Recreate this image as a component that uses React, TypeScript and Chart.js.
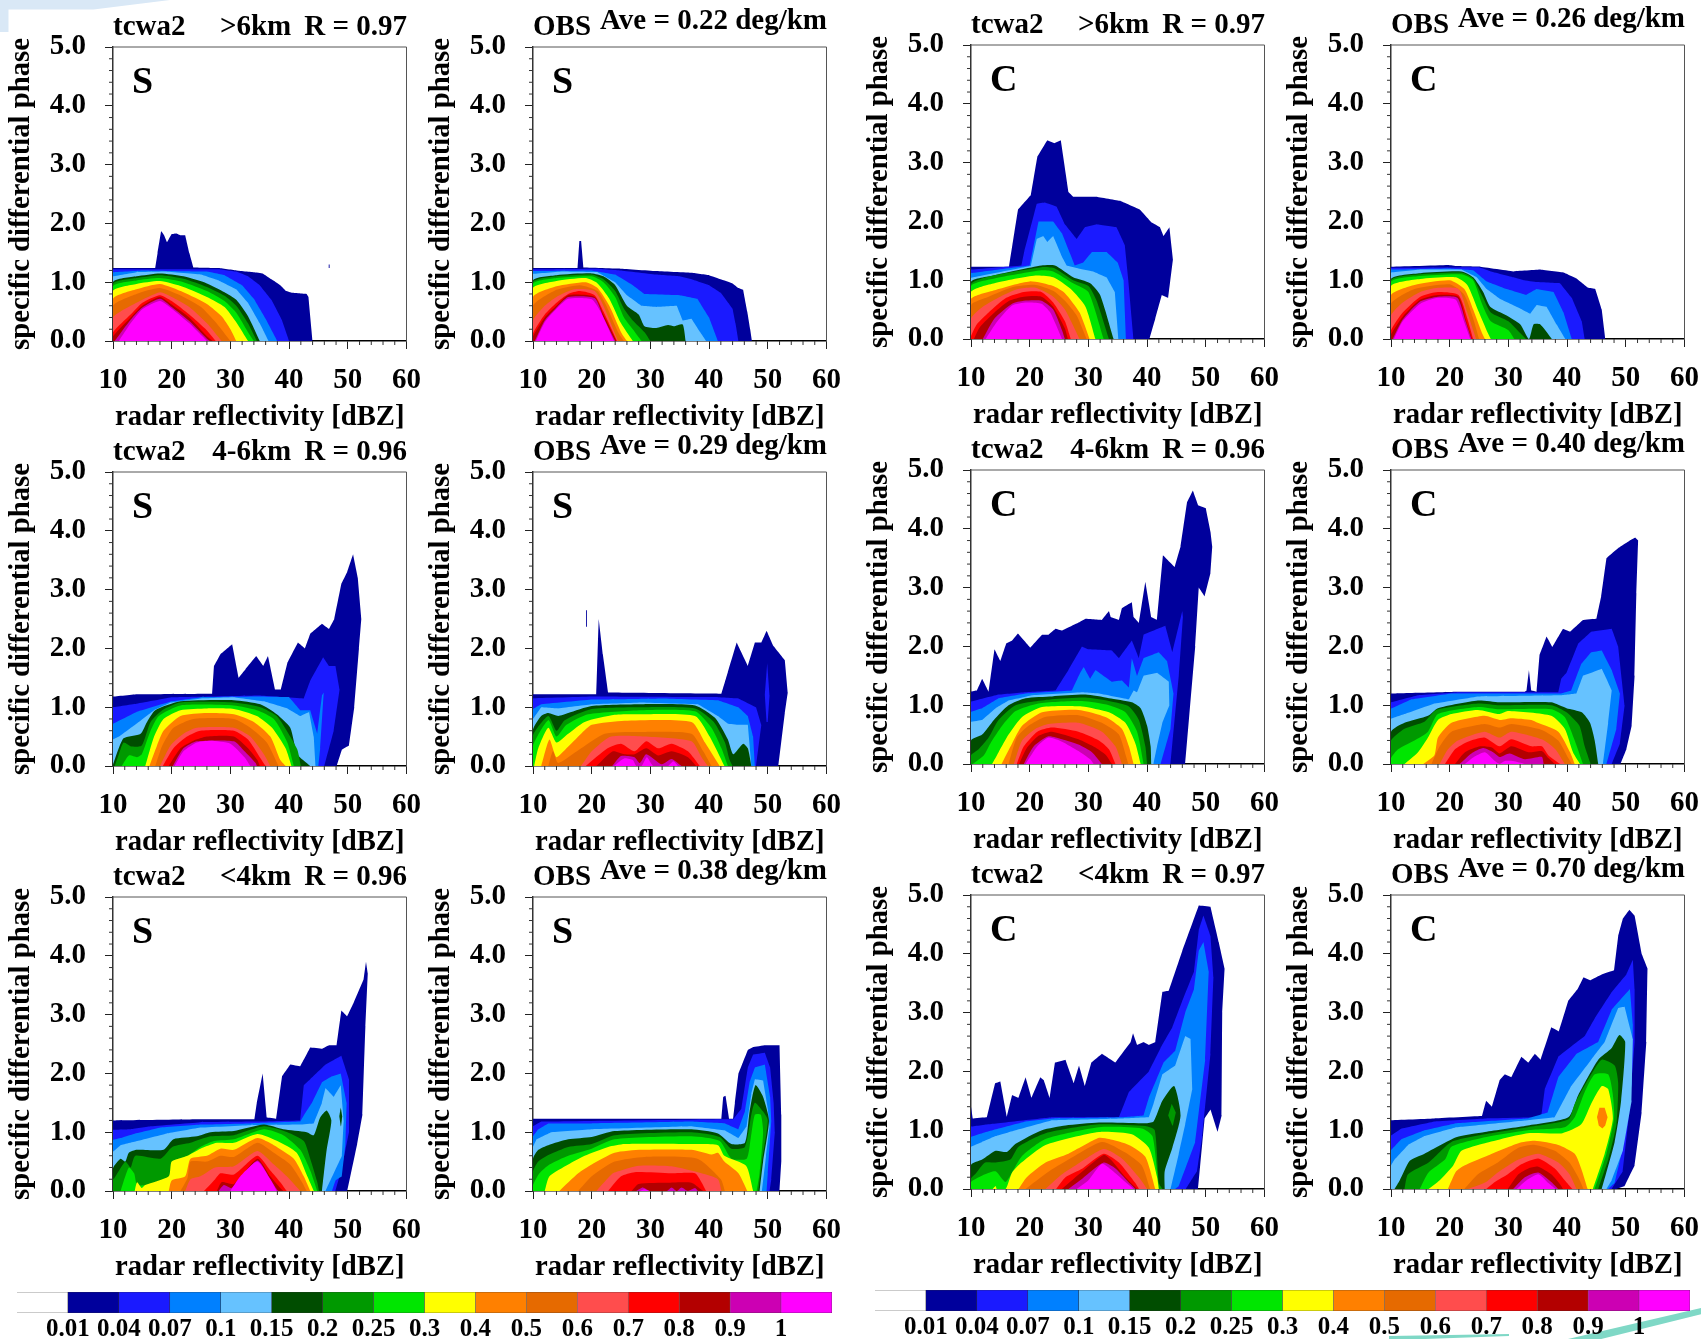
import React, { useEffect, useRef } from "react";
import { Chart, registerables } from "chart.js";
Chart.register(...registerables);

const LEVEL_COLORS = ["#00009c","#1a1aff","#0080ff","#66c2ff","#004d00","#009900","#00e600","#ffff00","#ff8000","#e66a00","#ff4d4d","#ff0000","#b30000","#cc00b3","#ff00ff"];
const LEGEND_COLORS = ["#ffffff", ...LEVEL_COLORS];
const LEGEND_LABELS = ["0.01","0.04","0.07","0.1","0.15","0.2","0.25","0.3","0.4","0.5","0.6","0.7","0.8","0.9","1"];
const X_TICKS = [10, 20, 30, 40, 50, 60];
const Y_TICKS = [0, 1, 2, 3, 4, 5];

// Each inner array is one contour outline: x (dBZ), y (deg/km) pairs, closed along y = 0.
const S_GT6_MODEL = [
[10,1.24,17.2,1.24,17.6,1.5,18.2,1.87,18.7,1.8,19.2,1.68,20,1.82,20.8,1.83,21.5,1.8,22.3,1.8,23,1.5,23.7,1.25,28,1.24,31,1.2,34,1.17,35.5,1.15,37,1.05,38.5,0.95,39.5,0.85,40.5,0.82,43,0.8,43.3,0.75,44,0],
[10,1.22,28,1.22,31,1.18,33,1.1,35,0.95,37,0.7,38.8,0.35,40,0],
[10,1.17,15,1.2,26,1.18,29,1.12,32,0.95,34,0.72,36,0.38,38,0],
[10,1.1,14,1.17,19,1.18,25,1.13,28,1.03,31,0.88,33,0.65,35,0.3,36.5,0],
[10,1.0,14,1.1,18,1.15,22,1.1,26,0.98,29,0.83,31,0.7,33,0.42,35,0],
[10,0.97,14,1.07,18,1.12,22,1.06,26,0.92,29,0.77,31,0.6,33,0.3,34.5,0],
[10,0.93,14,1.03,18,1.07,22,1.0,26,0.85,29,0.68,31,0.48,33,0.15,34,0],
[10,0.85,14,0.97,18,1.02,22,0.92,26,0.75,29,0.58,31,0.32,33,0],
[10,0.72,14,0.88,18,0.97,22,0.83,26,0.63,28.5,0.42,30,0.2,31,0],
[10,0.6,14,0.8,18,0.9,22,0.75,25,0.58,27.5,0.32,30,0],
[10,0.4,14,0.65,18,0.83,20,0.75,23,0.58,26,0.3,28.5,0],
[10,0.15,13,0.45,15,0.65,18,0.78,20,0.68,23,0.45,26,0.18,27.5,0],
[10,0.08,13,0.4,15,0.6,18,0.75,20,0.62,23,0.4,26,0.08,27,0],
[10.3,0,13,0.36,15,0.57,18,0.72,20,0.58,23,0.34,26,0.04,26.5,0],
[11,0,13,0.3,15,0.54,18,0.68,20,0.55,23,0.3,26,0],
];
const S_GT6_OBS = [
[10,1.24,17.6,1.24,17.9,1.7,18.2,1.7,18.6,1.25,25,1.23,31,1.19,37,1.16,40,1.12,42,1.05,44,0.98,45,0.9,45.8,0.87,46.5,0.5,47,0.2,47.3,0],
[10,1.22,21,1.23,25,1.2,31,1.13,35,1.1,37,1.05,40,0.95,42,0.82,44,0.55,44.5,0.3,45,0],
[10,1.19,20,1.2,24,1.13,27,0.95,29,0.8,35,0.78,38,0.72,40,0.4,41.5,0],
[10,1.14,15,1.18,21,1.17,24,1.0,26,0.78,28.5,0.6,31,0.58,34.5,0.6,35.5,0.35,37,0.38,38.5,0.15,39.5,0],
[10,1.03,14,1.12,20,1.15,22,1.1,24,0.95,26,0.6,28,0.45,29,0.25,31,0.22,33,0.27,34,0.25,35.5,0.28,36,0],
[10,1.0,14,1.1,20,1.13,22,1.05,24,0.85,25.5,0.55,27,0.35,29,0.15,30,0],
[10,0.97,14,1.07,20,1.1,22,1.0,24,0.75,25.5,0.4,27,0.2,28.5,0],
[10,0.9,14,1.02,19,1.07,21,0.98,23,0.72,25,0.3,27,0],
[10,0.75,14,0.93,19,1.0,21,0.9,23,0.6,25,0.15,26,0],
[10,0.6,14,0.87,18,0.95,21,0.85,22.5,0.6,24.5,0.15,25.5,0],
[10,0.35,12,0.6,14,0.75,17,0.88,20.5,0.85,22,0.6,24.5,0],
[10,0.13,12,0.45,14,0.65,16,0.8,18,0.85,20.5,0.78,22,0.5,24.3,0],
[10,0.08,12,0.4,14,0.6,16,0.78,20.5,0.75,22,0.45,24.2,0],
[10.3,0,12,0.35,14,0.57,16,0.75,20.5,0.73,22,0.4,24,0],
[10.5,0,12,0.32,14,0.55,16,0.72,20,0.71,21.5,0.5,23.8,0],
];
const C_GT6_MODEL = [
[10,1.23,16.5,1.23,18,2.2,20.2,2.45,21.3,3.1,23,3.38,24.2,3.33,25.3,3.38,26.6,2.5,27.4,2.42,31.4,2.42,35.4,2.35,38.8,2.2,40.8,1.98,42.2,1.9,42.8,1.75,43.8,1.9,44.4,1.35,43.6,0.7,42.5,0.75,41.4,0.35,40.4,0],
[10,1.18,18.6,1.25,19.1,1.5,21.2,2.3,22.6,2.32,24.6,2.25,26,1.95,28,1.7,29.4,1.9,31.4,1.95,34.8,1.9,36.2,1.6,36.8,1.0,37.7,0],
[10,1.12,20,1.25,21.5,2.0,24,2.0,25.5,1.8,27.7,1.25,29.1,1.3,30.6,1.48,33.1,1.48,35,1.3,36,1.0,36.4,0],
[10,1.04,20.2,1.24,21.2,1.7,22.3,1.75,23,1.65,24,1.75,25.5,1.4,26.3,1.25,28.3,1.2,30.8,1.15,33.1,1.05,34.5,0.8,35.1,0],
[10,0.97,13.8,1.08,22,1.25,24.3,1.25,27.4,1.05,30.3,0.95,32,0.75,34.3,0],
[10,0.94,22,1.22,24.3,1.2,27.4,1.0,30,0.9,31.4,0.65,33.5,0],
[10,0.9,14,1.03,22,1.17,24,1.15,27.4,0.95,30,0.8,32.6,0],
[10,0.8,14,0.95,21,1.08,24,1.05,27,0.85,29.5,0.55,31.2,0],
[10,0.68,14,0.83,20,0.98,24,0.9,26,0.78,28.5,0.45,30.2,0],
[10,0.58,13,0.72,17,0.88,21,0.92,24,0.82,26,0.65,28,0.4,29.7,0],
[10,0.35,12,0.55,15,0.72,18,0.85,21,0.87,24,0.72,26,0.5,28.5,0],
[10,0.05,11,0.25,13,0.45,16,0.7,19,0.8,22,0.8,24,0.62,26,0.3,27,0],
[10.5,0,11.5,0.2,14,0.45,16.5,0.65,19,0.72,22,0.72,24,0.55,26,0.18,26.5,0],
[12,0,14,0.35,17,0.6,19,0.65,22,0.65,24,0.5,25.5,0.15,26,0],
[12.5,0,14.5,0.3,17,0.57,19.5,0.62,22,0.6,23.5,0.45,25.5,0],
];
const C_GT6_OBS = [
[10,1.23,19.8,1.26,21.2,1.24,25.2,1.23,30.9,1.15,35.4,1.18,39.4,1.13,41.6,1.03,43.6,0.87,44.8,0.85,45.9,0.5,46.5,0],
[10,1.21,25,1.22,27,1.15,30.9,1.05,32.6,1.0,34.8,0.97,38.8,0.95,40.8,0.7,42.5,0.3,43,0],
[10,1.18,20,1.2,24,1.17,26.3,0.98,29.7,0.85,33,0.75,34.8,0.85,37.7,0.8,39.4,0.45,40.8,0],
[10,1.13,15,1.18,22,1.18,24.6,1.05,26.3,0.85,28.6,0.68,32,0.52,33.7,0.43,34.8,0.58,36.5,0.55,38.2,0.25,39.7,0],
[10,1.02,15,1.12,22,1.15,24,1.05,25.7,0.8,26.9,0.55,29.7,0.4,32,0.25,33.5,0,34.3,0.25,35.4,0.25,37.4,0],
[10,1.0,15,1.1,22,1.13,24,1.03,25.7,0.7,27,0.45,30,0.3,32,0.1,33,0],
[10,0.97,15,1.07,22,1.1,24,1.0,25.5,0.6,27,0.3,30,0.15,31,0],
[10,0.9,15,1.02,21,1.05,23,0.92,25,0.45,26.5,0.1,27,0],
[10,0.75,14,0.92,20,1.0,22.5,0.85,24,0.5,25.5,0.1,26,0],
[10,0.6,14,0.85,20,0.93,22.5,0.75,24,0.35,25,0],
[10,0.4,12,0.62,15,0.8,18,0.87,21.5,0.85,23,0.45,24.5,0],
[10,0.15,12,0.45,15,0.72,18,0.8,21.5,0.75,23,0.35,24,0],
[10,0.08,12,0.38,15,0.67,18,0.75,21.5,0.72,22.8,0.3,23.8,0],
[10.3,0,12,0.33,15,0.64,18,0.72,21.3,0.7,22.7,0.3,23.7,0],
[10.5,0,12,0.3,15,0.6,18,0.7,21,0.67,22.5,0.28,23.5,0],
];
const S_MID_MODEL = [
[10,1.18,14.1,1.22,26.9,1.23,27.2,1.7,28.3,1.9,30.3,2.07,31.4,1.5,32.6,1.65,34.4,1.87,35.6,1.7,36.4,1.87,37.6,1.3,38.6,1.3,39.7,1.75,41.5,2.1,42.7,2.0,43.6,2.25,45.6,2.42,46.8,2.33,47.7,2.5,48.9,3.1,49.9,3.3,50.9,3.6,51.7,3.2,52.3,2.5,51.9,2.0,51.1,1.0,50.2,0.35,49,0.28,48.1,0],
[10,1.0,14,1.06,20,1.17,35,1.2,42.5,1.15,43.6,1.45,45.8,1.85,46.8,1.7,47.9,1.7,48.6,1.3,47.6,0.6,46,0],
[10,0.72,14,0.92,20,1.1,25,1.17,35,1.18,40,1.17,41.9,0.95,43.6,0.95,44.8,0.55,45.6,1.2,45.9,1.25,45.3,0.3,45,0],
[10,0.45,11,0.5,14,0.72,17,0.95,19.8,1.08,24.9,1.15,30.6,1.17,35.7,1.1,39.7,0.98,41.9,0.85,43.4,0.92,44.2,0.5,44.5,0],
[10,0.02,11.8,0.47,14.7,0.55,15.8,0.75,17.2,0.95,21.5,1.1,30.6,1.12,35.1,1.05,37.9,0.88,40.2,0.65,41.4,0.2,43.6,0],
[10.3,0,11,0.2,11.8,0.4,13.2,0.33,14.9,0.35,16.4,0.75,18.4,0.95,21.5,1.08,30.6,1.08,35.1,1.0,37.9,0.85,39.9,0.55,41.4,0.28,42,0],
[11.5,0,12.7,0.18,14.1,0.15,14.9,0.2,16.4,0.6,17.8,0.85,21.5,1.03,30.6,1.03,34.5,0.95,37.4,0.8,39.7,0.4,40.8,0],
[15.5,0,17,0.5,18.6,0.8,21.5,0.95,26,0.98,30.6,0.97,34.5,0.85,37.1,0.65,39.4,0.3,40.4,0],
[16.2,0,17.5,0.35,18.6,0.6,21.5,0.85,26,0.9,30.6,0.88,34,0.75,36.8,0.5,38.5,0.1,39.4,0],
[17.2,0,18.4,0.35,20.3,0.65,23.7,0.8,30.6,0.8,33.4,0.65,36.2,0.4,38.2,0],
[18,0,19.8,0.35,22,0.55,24.3,0.65,30.6,0.65,33.4,0.5,35.7,0.2,36.8,0],
[18.5,0,20.3,0.3,22.6,0.5,24.9,0.6,30.6,0.6,33,0.45,35,0.15,36,0],
[19.5,0,21.5,0.3,23.7,0.43,26,0.5,30.6,0.5,33,0.3,34.6,0.1,35,0],
[20.2,0,22,0.3,24.3,0.42,30.6,0.42,32.4,0.25,34.3,0.05,34.5,0],
[20.5,0,22,0.25,24.3,0.4,26.6,0.43,30,0.38,32.4,0.15,33.4,0],
];
const S_MID_OBS = [
[10,1.22,20.8,1.22,21.2,2.5,21.9,1.9,22.8,1.25,42.1,1.23,43.2,1.6,44.7,2.1,46.6,1.7,47.8,2.1,48.9,2.1,49.8,2.3,50.9,2.05,52.9,1.8,53.4,1.25,52.9,0.9,51.8,0],
[10,1.15,20,1.18,41.5,1.17,45,1.15,48,1.0,48.9,0.7,48,0],
[10,0.97,11.4,1.05,20,1.13,32.4,1.15,41.5,1.12,45,1.0,46.6,0.85,47.5,0.5,47.8,0],
[10,0.8,11.4,1.0,14.3,0.98,20,1.05,28.5,1.08,38.1,1.05,41.5,0.85,43.2,0.72,45,0.7,46.6,0.7,47.2,0],
[10,0.62,11.4,0.85,12.6,0.9,14.3,0.85,16,0.9,20,1.02,28.5,1.05,37.6,1.03,41,0.82,43.2,0.45,44.1,0.2,45.8,0.38,46.6,0.3,47.2,0],
[10,0.52,12.6,0.85,14,0.6,15.4,0.78,20,0.97,28.5,1.0,37.6,0.98,40.8,0.75,42.7,0.4,43.5,0.1,44,0],
[10,0.35,12.6,0.78,14,0.5,15.7,0.7,19.4,0.88,28.5,0.95,37.6,0.93,40.4,0.65,42.1,0.3,43.2,0],
[10.2,0,10.9,0.3,12.6,0.65,14,0.4,16,0.55,18.8,0.75,23.9,0.87,28.5,0.88,37.6,0.85,40.1,0.5,42.6,0],
[11.4,0,12.8,0.45,14,0.15,15.7,0.3,18.2,0.55,20,0.7,25.6,0.77,37,0.75,39.3,0.4,41.8,0],
[12.6,0,13.4,0.25,14.3,0.05,18.2,0.3,22.2,0.55,28.5,0.58,37,0.55,39,0.25,40.4,0],
[18.2,0,20,0.25,23.3,0.5,29,0.5,37,0.42,38.7,0.15,39.8,0],
[19,0,22.7,0.3,25,0.38,27.3,0.25,29.3,0.42,31.3,0.3,33.6,0.38,36.4,0.25,38.4,0],
[20.8,0,23.6,0.25,25.6,0.2,27.3,0.2,29.3,0.3,31.3,0.18,33.6,0.25,36.4,0.15,37.8,0],
[23.5,0,25,0.17,27.3,0.15,28.2,0.05,29.3,0.2,31.9,0.03,33.6,0.12,35.3,0],
[23.8,0,25.6,0.13,27,0.1,27.6,0,28.5,0,29.4,0.15,30.5,0,33,0,33.9,0.08,34.7,0],
];
const C_MID_MODEL = [
[10,1.23,11,1.25,11.9,1.45,13,1.23,14,1.95,15,1.75,16,2.05,17,2.1,18,2.22,20.1,1.98,22.1,2.2,23.2,2.2,24.4,2.3,25.5,2.27,28.6,2.42,29.5,2.47,32.3,2.45,33.5,2.6,33.8,2.5,35.2,2.45,35.7,2.65,37.4,2.75,37.7,2.5,38.6,2.4,39.7,3.1,40.7,2.5,41.7,2.45,42.7,3.55,44.7,3.35,45.7,3.7,46.8,4.45,47.8,4.65,48.7,4.4,50,4.35,50.8,3.95,51.1,3.7,50.8,3.25,49.8,2.85,48.8,3.0,48.2,2.0,46.5,0],
[10,1.06,14.7,1.18,19.3,1.22,24.4,1.25,26.6,1.6,28.9,2.0,30,1.95,34,1.93,35.2,1.8,37.4,2.1,38.6,1.8,39.4,2.2,43.1,2.35,44.3,1.9,46,2.6,46.1,2.5,45.4,1.5,44,0],
[10,0.89,11.9,0.95,14.7,1.12,19.3,1.2,27.2,1.25,28.6,1.55,29.2,1.65,30.3,1.45,31.2,1.6,34,1.4,35.7,1.42,36.9,1.3,37.4,1.8,38.3,1.5,39.4,1.8,42,1.9,43.4,1.75,44.5,1.2,44,0.6,42.3,0],
[10,0.72,11.9,0.75,14.2,0.95,16.4,1.08,20.4,1.17,28.9,1.22,31.8,1.2,36.9,1.1,37.7,1.25,38.3,1.22,39.4,1.5,41.7,1.55,43.7,1.4,43.8,1.0,42.6,0.7,41.7,0.3,41.1,0],
[10,0.4,11.9,0.5,13.9,0.75,16.4,1.0,19.3,1.12,23.8,1.15,29.5,1.18,33.5,1.12,37.4,1.05,38.9,0.95,40,0.65,40.6,0.3,40.7,0],
[10,0.15,11.3,0.25,13,0.45,14.7,0.75,17.6,1.0,23.8,1.1,29.5,1.13,33.5,1.07,36.9,0.98,38.6,0.75,39.7,0.3,40,0],
[10.3,0,12.2,0.15,13.3,0.35,15.3,0.65,17.6,0.9,21.5,1.03,28.9,1.07,33.5,1.0,36.3,0.88,38.3,0.55,39.4,0],
[13.6,0,14.7,0.2,16.4,0.5,18.7,0.8,22.1,0.97,28.9,0.98,33.5,0.88,36.3,0.7,38,0.35,38.9,0],
[15.2,0,17,0.35,18.7,0.65,22.1,0.88,28.3,0.92,32.9,0.8,35.7,0.6,36.9,0.3,37.7,0],
[16.4,0,17.8,0.45,19.8,0.65,22.6,0.8,28.3,0.83,32.3,0.7,35.2,0.5,36.5,0.1,36.8,0],
[17.3,0,18.7,0.4,21,0.6,23.2,0.68,28.3,0.7,32.3,0.55,34.6,0.3,35.7,0],
[17.8,0,19,0.3,21.3,0.55,23.8,0.62,28.3,0.55,31.8,0.4,33.5,0.25,34.6,0],
[18.2,0,19.5,0.27,21.5,0.48,23.8,0.55,28.3,0.42,31.2,0.28,33,0.15,34,0],
[19,0,20.7,0.3,23.2,0.47,25.5,0.42,28.3,0.33,30.6,0.2,32.3,0],
[19.3,0,21.3,0.3,23.2,0.45,25.5,0.38,28.3,0.22,30.3,0.08,30.9,0],
];
const C_MID_OBS = [
[10,1.2,21.4,1.23,32.8,1.23,33.1,1.25,33.5,1.6,33.9,1.25,34.8,1.23,35.3,1.85,36.5,2.17,37.5,1.99,39.3,2.3,40.5,2.25,42.7,2.45,45,2.47,45.8,2.85,46.7,3.5,47,3.53,48.7,3.67,50.7,3.8,51.6,3.85,52.1,3.8,51.8,2.9,51.5,1.5,51,0.65,50.1,0.25,49.1,0],
[10,1.05,14.6,1.17,21.4,1.22,38.5,1.22,39,1.45,39.9,1.55,41.9,2.05,44.1,2.25,47.6,2.3,48.7,2.0,49.8,1.0,49,0.35,47.6,0],
[10,0.94,13.5,1.1,20.3,1.2,39,1.2,40.7,1.25,42.4,1.7,44.1,1.9,45.9,1.93,47.6,1.6,49,1.2,48.4,0.6,46.7,0],
[10,0.77,12.3,0.85,17.4,1.03,24.8,1.15,39,1.17,41.6,1.2,42.7,1.5,44.1,1.55,45.9,1.62,46.7,1.45,47.6,1.25,47,0.7,46.1,0],
[10,0.55,12.3,0.7,16.3,0.82,18,0.95,24.8,1.08,28.5,1.05,37.3,1.05,39.9,0.95,42.5,0.88,43.9,0.7,44.7,0.4,45.3,0],
[10,0.4,12.3,0.6,15.7,0.72,17.7,0.92,24.8,1.03,28.5,1.0,37.3,1.0,39.9,0.88,42.1,0.65,43,0.3,44,0],
[10,0.1,11.2,0.25,14,0.4,16.3,0.55,18,0.85,24.8,0.97,28.5,0.93,37.3,0.93,39.6,0.8,41.3,0.4,42.7,0],
[12.3,0,14.6,0.2,16.3,0.45,18,0.75,20.3,0.85,24.8,0.92,28.5,0.85,29.9,0.9,37.3,0.82,39.6,0.6,41,0.2,42.2,0],
[15.5,0,17.4,0.15,18,0.45,20.3,0.7,25.9,0.82,28.5,0.75,30.5,0.78,33.9,0.75,35,0.7,38.5,0.55,40.5,0.2,41.3,0],
[16.9,0,18.3,0.3,20.3,0.55,25.9,0.68,28.5,0.62,30.5,0.68,35.7,0.58,38.5,0.4,40.2,0.1,40.8,0],
[18.3,0,19.7,0.25,21.4,0.4,25.9,0.55,28.5,0.45,30.5,0.55,35.7,0.42,38,0.25,39.6,0],
[19.2,0,20.9,0.25,23.1,0.38,25.9,0.45,28.5,0.3,30.5,0.42,33.9,0.3,35.7,0.3,36.8,0.15,38.8,0],
[20.9,0,22.6,0.2,25.2,0.3,27.2,0.28,28.5,0.18,30.5,0.3,33.4,0.2,35.7,0.22,36.8,0.1,37.9,0],
[21.7,0,23.7,0.18,25.7,0.27,27.4,0.2,28.5,0.12,30.2,0.18,32.8,0.08,35.7,0.12,36,0],
[22.6,0,24.3,0.13,26,0.2,27.7,0.05,28.5,0,29.4,0.05,30.8,0.05,32.8,0],
];
const S_LOW_MODEL = [
[10,1.2,24.9,1.22,34.1,1.22,34.5,1.5,35.5,2.0,36.2,1.25,37.8,1.23,38.8,1.95,40.2,2.15,41.9,2.12,43.6,2.44,45.6,2.42,46.8,2.48,48.1,2.48,48.9,3.07,49.9,2.97,51,3.2,52.7,3.6,53.1,3.9,53.4,3.7,53,2.8,52.5,1.3,51.6,0.8,49.9,0],
[10,1.04,13,1.05,16.4,1.1,24.9,1.17,34,1.18,41.9,1.2,42.5,1.8,43.6,1.9,46.2,2.15,48.9,2.3,50.2,1.9,50.2,1.0,49,0.4,47.9,0],
[10,0.87,11.3,0.9,13.5,0.97,18.1,1.08,24.9,1.13,33.4,1.15,41.9,1.18,42.6,1.3,43.9,1.5,45.6,1.85,47.3,1.95,48.8,2.0,49.8,1.5,49.6,0.8,49,0.25,47.9,0.18,47.3,0],
[10,0.67,11.3,0.78,14.1,0.85,19.2,0.98,24.9,1.08,33.4,1.12,41.9,1.13,44.2,1.15,45.6,1.5,46.2,1.75,47.6,1.6,48.8,1.8,49.3,1.2,49,0.6,47.6,0.3,46.2,0],
[10,0.39,11.3,0.55,12.1,0.5,12.7,0.65,14.1,0.7,18.6,0.7,20.3,0.88,24.3,0.93,26.6,1.0,30.6,1.02,35.7,1.13,39,1.05,43,1.0,44.2,0.95,45.3,1.25,46.4,1.37,47.2,1.2,46.4,0.7,45.6,0],
[10,0.28,10.1,0.2,12.1,0.5,13,0.4,13.8,0.6,18.1,0.55,20.1,0.75,23.2,0.82,26.6,0.93,30.6,0.95,35.7,1.1,39.7,1.0,42.5,0.85,43.6,0.55,44.8,0.15,45.1,0],
[11.3,0,12.7,0.4,13.6,0.3,14.1,0.1,15.5,0.1,19.5,0.2,20.1,0.5,22.7,0.6,24.9,0.75,27.2,0.85,30.6,0.88,35.7,1.05,39,0.95,41.9,0.7,43.6,0.35,44.8,0],
[13.7,0,14.1,0.15,14.9,0.05,15.5,0.1,19.5,0.25,20,0.5,22.7,0.6,24.9,0.72,27.7,0.82,30.6,0.82,34.6,0.97,38,0.85,41.3,0.65,43.1,0.25,44.2,0],
[19.5,0,20,0.18,22.3,0.25,23.2,0.55,26,0.6,28.3,0.72,30.6,0.7,34.6,0.9,37.4,0.78,40.8,0.55,42.5,0.25,43.6,0],
[21.5,0,22.7,0.22,23.2,0.5,26,0.5,28.3,0.6,30.6,0.58,34.6,0.82,37.4,0.65,40.2,0.45,42.2,0.15,43,0],
[22.3,0,23.2,0.2,24.9,0.25,27.4,0.4,30.6,0.42,34.6,0.68,37.4,0.45,39.6,0.25,41.9,0],
[25.5,0,27.4,0.2,28.3,0.3,30.6,0.28,34.6,0.6,36.8,0.35,38.5,0.15,39.6,0],
[27.7,0,28.5,0.15,30.6,0.12,34.6,0.55,36.8,0.25,38.5,0.05,39,0],
[28,0,28.9,0.1,30.2,0.05,34.6,0.52,36.8,0.2,37.9,0.03,38.2,0],
[30,0,31.7,0.25,34.6,0.5,36.8,0.2,37.9,0],
];
const S_LOW_OBS = [
[10,1.23,42.1,1.23,42.4,1.6,42.8,1.62,43.4,1.23,44.1,1.23,44.4,1.5,45,2.0,45.8,2.2,46.6,2.4,47.5,2.45,49.5,2.48,52,2.48,52.3,1.3,52.3,0.5,52,0],
[10,1.1,11.4,1.18,42.7,1.22,44.1,1.22,45.5,1.4,46.6,2.1,47.5,2.32,49.5,2.35,50.4,2.1,51,1.5,51.2,1,50.6,0.2,50.3,0],
[10,0.93,10.9,1.05,12.6,1.15,20,1.15,37,1.18,42.7,1.15,45,1.05,46.1,1.35,46.9,1.85,47.8,2.1,49.5,2.15,50.4,1.6,50.6,1.2,50,0.3,49.8,0],
[10,0.75,10.6,0.88,13.1,1.0,20,1.05,37,1.1,42.7,1.03,45,0.9,46.4,1.1,47.2,1.65,47.8,1.9,49.2,1.88,50,1.4,50.3,1.1,49.7,0.6,49,0],
[10,0.55,10.9,0.7,12.6,0.78,16,0.88,20,0.92,23.9,1.02,37,1.05,41.5,0.98,43.8,0.8,46.1,0.82,46.9,1.35,47.9,1.8,49.2,1.6,50.2,1.2,49.2,0.5,48.6,0],
[10,0.33,10.9,0.5,12.8,0.62,16,0.75,20,0.8,23.9,0.95,37,1.0,41.8,0.92,43.8,0.72,46.1,0.75,47.2,1.3,47.8,1.5,49.2,1.35,50,1.2,49,0.5,48.4,0],
[10,0.1,11.1,0.3,12.8,0.45,16,0.6,20,0.72,23.9,0.88,37,0.93,41.8,0.85,43.8,0.55,46.4,0.55,47.1,0.9,47.8,1.3,48.8,1.3,49.2,1.0,48.6,0.3,48.1,0],
[12,0,12.8,0.25,16,0.45,18.8,0.6,22.8,0.75,25.6,0.8,37,0.8,41.5,0.78,42.6,0.6,46.3,0.43,47.5,0],
[14.5,0,17.7,0.3,20,0.45,23.9,0.65,28.5,0.7,37,0.7,40.4,0.62,41.5,0.65,42.6,0.5,45,0.3,46.5,0],
[17.7,0,20,0.25,23.9,0.5,29,0.58,38,0.55,42,0.2,42.7,0],
[20.8,0,23.6,0.3,25,0.35,28,0.43,33.6,0.42,38.7,0.3,41.5,0.2,42.1,0],
[22.8,0,25,0.25,27.3,0.32,33.6,0.3,37.6,0.3,38.7,0.15,39.5,0],
[26.8,0,28,0.12,33.2,0.14,37,0.14,38.7,0.02,39,0],
[27.6,0,28.7,0.06,29.9,0,32.8,0,33.6,0.06,34.5,0,35.3,0.06,36.4,0,37.6,0.05,38.1,0],
[28.2,0,29,0.03,29.8,0],
];
const C_LOW_MODEL = [
[10,1.4,10.3,1.2,12.7,1.22,14.1,1.8,15,1.83,16.1,1.23,17,1.6,18.1,1.55,19.3,1.9,20.3,1.55,21.8,1.9,22.4,1.85,23.4,1.55,24.3,2.15,26.1,2.2,27.5,1.8,28.4,2.1,29.4,1.75,30.5,2.15,32.3,2.3,34.6,2.15,37.2,2.5,37.6,2.65,38.3,2.45,39.4,2.5,40.3,2.45,41.4,2.5,42.6,3.35,43.7,3.37,46,4.05,48.8,4.82,50.8,4.8,52.2,4.2,53.2,3.75,52.8,3.0,52.7,1.25,52,0.97,50.8,1.35,49.8,1.2,48.7,0],
[10,1.06,13,1.1,23.8,1.22,35.2,1.22,36.9,1.65,40.3,2.0,42.3,2.4,44.3,2.75,46,3.2,48,3.7,48.8,4.4,49.6,4.65,50.8,4.3,51.3,3.6,50.8,2.3,49.4,0.9,48.5,0.3,46.6,0],
[10,0.89,11.9,0.95,14.7,1.03,19.3,1.15,23.8,1.2,35.9,1.22,39.4,1.25,40.3,1.55,42.8,2.15,44.8,2.35,46.5,3.0,48,3.4,48.8,4.05,49.6,4.2,50.5,3.7,49.9,2.2,48.2,0.8,45.4,0.05,44.8,0],
[10,0.72,11.9,0.8,14.2,0.9,17.6,1.0,23.8,1.17,35.9,1.2,40.3,1.22,41.1,1.45,42.6,1.95,44.8,2.1,46.5,2.6,47.4,2.55,47.7,1.7,46.5,1.1,45.4,0.6,44,0],
[10,0.41,11.9,0.5,14.2,0.65,16.1,0.63,17.6,0.77,22.1,1.0,26.1,1.08,31.8,1.13,39.7,1.12,41.1,1.15,42.6,1.5,44.6,1.75,45.7,1.25,44.3,0.7,43,0.3,43,0],
[10,0.18,10.7,0.25,12.4,0.45,14.2,0.45,16.7,0.5,18.1,0.72,22.7,0.95,31.8,1.1,39.7,1.07,41.3,1.0,42,0.1,42.6,0],
[10,0.12,12.4,0.25,14.2,0.3,15.9,0.12,18.6,0.55,22.7,0.85,31.8,1.05,39.1,1.03,40.9,0.9,41.7,0.3,42,0],
[13.7,0,14.2,0.05,14.4,0,15.9,0,17,0.28,18.6,0.45,22.7,0.75,31.8,0.97,37.4,0.93,40.3,0.7,41.7,0.2,42,0],
[18.1,0,19.5,0.2,22.7,0.45,26.6,0.6,31.8,0.87,33.5,0.85,36.9,0.75,39.7,0.55,41.4,0],
[19.3,0,23,0.28,26.6,0.5,32.3,0.8,36.3,0.62,39.1,0.4,40.5,0],
[22.7,0,25.5,0.25,27.8,0.4,32.6,0.68,35.7,0.52,38.6,0.2,40,0],
[24.5,0,26.1,0.2,29,0.35,32.6,0.6,35.2,0.45,38,0.1,38.6,0],
[25.5,0,28.4,0.25,32.6,0.58,34,0.48,36.3,0.2,38.3,0],
[26.6,0,29,0.18,32.6,0.45,34.6,0.35,37.2,0.08,38,0],
[28,0,30,0.15,32.3,0.43,34,0.32,36.3,0.12,37.7,0],
];
const C_LOW_OBS = [
[10,1.17,17.4,1.2,25.5,1.24,26.2,1.5,27.2,1.4,28.5,1.85,29.4,1.95,30.5,1.9,32.2,2.25,33.4,2.15,34.5,2.3,35.5,2.2,37.3,2.75,38.6,2.68,40.2,3.2,41.8,3.4,42.8,3.6,43.9,3.55,45.9,3.65,48,3.72,48.7,4.3,49.5,4.6,50.6,4.75,51.5,4.65,52.7,4.0,53.7,3.75,53.5,2.5,52.7,1.3,51.5,0.4,49.8,0.05,48.4,0],
[10,0.91,11.8,1.03,17.4,1.15,26,1.2,35.6,1.22,36.2,1.7,38.5,2.25,43,2.6,44.7,2.9,47.6,3.35,50.1,3.65,51.2,3.9,51.5,3.4,51.5,2.5,50.6,1.3,49.5,0.3,47.6,0],
[10,0.66,11.8,0.85,15.7,1.0,21.1,1.12,33.3,1.2,36.7,1.3,38.5,1.9,41.6,2.3,45.3,2.5,47.6,3.05,50.7,3.4,51.2,2.8,51,1.8,49.5,0.7,48.1,0.1,47,0],
[10,0.4,10.6,0.5,12.9,0.75,15.7,0.9,21.1,1.05,33.3,1.17,37.9,1.22,40.7,1.75,44.1,2.2,46.4,2.5,48.7,3.08,49.8,3.1,51.2,2.55,51,1.5,49.5,0.65,47.6,0.15,46.7,0],
[10.6,0,11.5,0.15,13.2,0.48,15.7,0.6,21.1,0.88,26,0.97,33.3,1.08,40.2,1.22,41.9,1.6,45.3,2.2,47.6,2.4,48.9,2.62,49.9,2.5,49.2,1.5,48.1,0.8,45.9,0],
[12.3,0,12.9,0.25,16.4,0.45,20.3,0.8,26,0.93,33.3,1.05,40.2,1.18,41.3,1.45,44.1,1.95,45.9,2.2,48.1,2.1,48.7,1.8,48.4,1.1,47,0.5,45.3,0],
[14.9,0,16.4,0.28,19.2,0.5,20.3,0.72,26,0.88,33.3,1.0,39.6,1.05,41.3,1.22,43,1.65,44.7,1.95,47,1.95,47.8,1.6,48,1.2,46.7,0.6,44.7,0],
[16.4,0,18.3,0.15,20.6,0.4,22,0.65,26,0.78,33.3,0.95,39.2,0.95,42.4,1.1,44.1,1.45,45.9,1.75,47,1.7,47.8,1.2,46.4,0.6,44.4,0],
[19.7,0,21.1,0.3,22.5,0.4,26,0.55,31.7,0.78,34.5,0.82,38.5,0.75,41.3,0.6,42.4,0.35,43.5,0],
[22.5,0,24.8,0.25,28.2,0.45,31.7,0.7,34.5,0.75,37.9,0.65,40.4,0.45,41.9,0.2,42.8,0],
[23.1,0,26.2,0.12,28.2,0.28,31.7,0.5,35.1,0.6,38.5,0.45,40.4,0.25,41.6,0],
[26.2,0,27.7,0.12,29.9,0.25,32.2,0.42,35.1,0.52,37.9,0.35,39.6,0.15,40.9,0],
[29.9,0,31.7,0.25,33.4,0.35,35.1,0.38,37.3,0.25,38.8,0.08,39.3,0],
[30.8,0,32.8,0.2,35.1,0.28,37.3,0.12,38.5,0],
[31.4,0,33.1,0.15,35.1,0.25,36.8,0.1,38,0],
];

// Detached contour patches: [level index, closed outline]
const ISLANDS_S_GT6_MODEL = [[0,[46.75,1.24,46.9,1.24,46.9,1.3,46.75,1.3]]];
const ISLANDS_S_MID_OBS = [[0,[19.05,2.37,19.2,2.37,19.2,2.65,19.05,2.65]],[1,[49.8,0.75,49.5,1.2,49.9,1.75,50.3,1.2,50,0.75]],[2,[49.9,1.0,49.75,1.25,49.9,1.5,50.05,1.25,49.95,1.0]]];
const ISLANDS_S_LOW_MODEL = [[4,[48.8,1.1,48.55,1.27,48.8,1.42,49.05,1.27,48.85,1.1]]];
const ISLANDS_C_LOW_MODEL = [[5,[44.3,1.08,43.6,1.25,44.2,1.45,44.9,1.3,44.4,1.08]]];
const ISLANDS_C_LOW_OBS = [[8,[46,1.03,45.4,1.08,45.1,1.22,45.5,1.38,46.4,1.38,46.9,1.22,46.5,1.08]]];

const MODEL_LABEL = "tcwa2";
const OBS_LABEL = "OBS";
const AXIS_X_TITLE = "radar reflectivity [dBZ]";
const AXIS_Y_TITLE = "specific differential phase";

const PANELS = [
  { data: S_GT6_MODEL, islands: ISLANDS_S_GT6_MODEL, col: 0, row: 0, letter: "S", left: MODEL_LABEL, right: ">6km \u2009R = 0.97" },
  { data: S_GT6_OBS, islands: [], col: 1, row: 0, letter: "S", left: OBS_LABEL, right: "Ave = 0.22 deg/km" },
  { data: C_GT6_MODEL, islands: [], col: 2, row: 0, letter: "C", left: MODEL_LABEL, right: ">6km \u2009R = 0.97" },
  { data: C_GT6_OBS, islands: [], col: 3, row: 0, letter: "C", left: OBS_LABEL, right: "Ave = 0.26 deg/km" },
  { data: S_MID_MODEL, islands: [], col: 0, row: 1, letter: "S", left: MODEL_LABEL, right: "4-6km \u2009R = 0.96" },
  { data: S_MID_OBS, islands: ISLANDS_S_MID_OBS, col: 1, row: 1, letter: "S", left: OBS_LABEL, right: "Ave = 0.29 deg/km" },
  { data: C_MID_MODEL, islands: [], col: 2, row: 1, letter: "C", left: MODEL_LABEL, right: "4-6km \u2009R = 0.96" },
  { data: C_MID_OBS, islands: [], col: 3, row: 1, letter: "C", left: OBS_LABEL, right: "Ave = 0.40 deg/km" },
  { data: S_LOW_MODEL, islands: ISLANDS_S_LOW_MODEL, col: 0, row: 2, letter: "S", left: MODEL_LABEL, right: "<4km \u2009R = 0.96" },
  { data: S_LOW_OBS, islands: [], col: 1, row: 2, letter: "S", left: OBS_LABEL, right: "Ave = 0.38 deg/km" },
  { data: C_LOW_MODEL, islands: ISLANDS_C_LOW_MODEL, col: 2, row: 2, letter: "C", left: MODEL_LABEL, right: "<4km \u2009R = 0.97" },
  { data: C_LOW_OBS, islands: ISLANDS_C_LOW_OBS, col: 3, row: 2, letter: "C", left: OBS_LABEL, right: "Ave = 0.70 deg/km" },
];

const FONT = '"Liberation Serif", "Times New Roman", serif';
const PLOT_W = 294, PLOT_H = 294;
const COL_X = [113, 533, 971, 1391];
const ROW_Y = [[47, 472, 897], [47, 472, 897], [45, 470, 895], [45, 470, 895]];
const PAD_LEFT = 113, PAD_TOP = 47, PAD_RIGHT = 24, PAD_BOTTOM = 91, RIGHT_SLACK = 4;

const toPoints = (flat, closeToBase) => {
  const pts = [];
  if (closeToBase) pts.push({ x: flat[0], y: 0 });
  for (let i = 0; i < flat.length; i += 2) pts.push({ x: flat[i], y: flat[i + 1] });
  if (closeToBase) pts.push({ x: flat[flat.length - 2], y: 0 });
  return pts;
};

// Fills each dataset's own line element as a closed contour polygon.
const contourFill = {
  id: "contourFill",
  beforeDatasetDraw(chart, args) {
    const { ctx, chartArea: a } = chart;
    const line = args.meta.dataset;
    if (!line) return;
    ctx.save();
    ctx.beginPath();
    ctx.rect(a.left, a.top, a.right - a.left, a.bottom - a.top);
    ctx.clip();
    ctx.beginPath();
    line.path(ctx);
    ctx.closePath();
    ctx.fillStyle = line.options.backgroundColor;
    ctx.fill();
    ctx.restore();
  },
};

const axisDecor = {
  id: "axisDecor",
  afterDraw(chart) {
    const { ctx, chartArea: a, scales } = chart;
    ctx.save();
    ctx.strokeStyle = "#555";
    ctx.lineWidth = 1;
    ctx.beginPath();
    ctx.moveTo(a.left, a.top); ctx.lineTo(a.right, a.top); ctx.lineTo(a.right, a.bottom);
    ctx.stroke();
    ctx.strokeStyle = "#333";
    ctx.beginPath();
    for (let v = 10; v <= 60; v += 2) {
      if (v % 10 === 0) continue;
      const p = scales.x.getPixelForValue(v);
      ctx.moveTo(p, a.bottom); ctx.lineTo(p, a.bottom + 4);
    }
    for (let k = 0; k <= 25; k++) {
      if (k % 5 === 0) continue;
      const p = scales.y.getPixelForValue(k / 5);
      ctx.moveTo(a.left, p); ctx.lineTo(a.left - 4, p);
    }
    ctx.stroke();
    ctx.restore();
  },
};

function Panel({ panel }) {
  const ref = useRef(null);
  useEffect(() => {
    const poly = (pts, level, order, tension) => ({
      data: pts,
      showLine: true,
      pointRadius: 0,
      borderWidth: 0,
      borderColor: "transparent",
      backgroundColor: LEVEL_COLORS[level],
      fill: false,
      tension,
      order,
    });
    const datasets = panel.data.map((flat, k) => poly(toPoints(flat, true), k, 20 - k, k >= 4 ? 0.2 : 0.0001));
    panel.islands.forEach(([lv, flat]) => datasets.push(poly(toPoints(flat, false), lv, 0, 0.0001)));
    const chart = new Chart(ref.current, {
      type: "scatter",
      data: { datasets },
      plugins: [contourFill, axisDecor],
      options: {
        animation: false,
        responsive: false,
        events: [],
        layout: { padding: { top: PAD_TOP, right: PAD_RIGHT, left: 0, bottom: 0 } },
        plugins: { legend: { display: false }, tooltip: { enabled: false }, title: { display: false } },
        scales: {
          x: {
            type: "linear", min: X_TICKS[0], max: X_TICKS[X_TICKS.length - 1],
            afterFit: (s) => { s.height = PAD_BOTTOM; },
            ticks: { stepSize: 10, padding: 14, color: "#000", font: { family: FONT, size: 29, weight: "bold" }, maxRotation: 0 },
            grid: { drawOnChartArea: false, tickLength: 8, color: "#222" },
            border: { color: "#000", width: 1.5 },
            title: { display: true, text: AXIS_X_TITLE, color: "#000", padding: 0, font: { family: FONT, size: 28.7, weight: "bold", lineHeight: 1 } },
          },
          y: {
            type: "linear", min: Y_TICKS[0], max: Y_TICKS[Y_TICKS.length - 1],
            afterFit: (s) => { s.width = PAD_LEFT; },
            ticks: { stepSize: 1, padding: 19, color: "#000", font: { family: FONT, size: 29, weight: "bold" }, callback: (v) => Number(v).toFixed(1) },
            grid: { drawOnChartArea: false, tickLength: 8, color: "#222" },
            border: { color: "#333", width: 1.5 },
            title: { display: true, text: AXIS_Y_TITLE, color: "#000", padding: { top: 7, bottom: 0 }, font: { family: FONT, size: 28.7, weight: "bold", lineHeight: 1 } },
          },
        },
      },
    });
    return () => chart.destroy();
  }, []);
  const x = COL_X[panel.col], y = ROW_Y[panel.col][panel.row];
  const txt = (style, children) => (
    <div style={{ position: "absolute", whiteSpace: "pre", fontFamily: FONT, fontWeight: "bold", color: "#000", lineHeight: 1, transform: "translateY(-50%)", ...style }}>{children}</div>
  );
  const obs = panel.col % 2 === 1;
  return (
    <>
      <canvas ref={ref} width={PAD_LEFT + PLOT_W + PAD_RIGHT + RIGHT_SLACK} height={PAD_TOP + PLOT_H + PAD_BOTTOM}
        style={{ position: "absolute", left: x - PAD_LEFT, top: y - PAD_TOP, display: "block" }} />
      {txt({ left: x, top: y - 22, fontSize: 29 }, panel.left)}
      {txt({ right: 1701 - (x + PLOT_W), top: y - (obs ? 28 : 22), fontSize: 29 }, panel.right)}
      {txt({ left: x + 19, top: y + 33, fontSize: 38 }, panel.letter)}
    </>
  );
}

function Legend({ left, top }) {
  const ref = useRef(null);
  useEffect(() => {
    const chart = new Chart(ref.current, {
      type: "bar",
      data: {
        labels: ["scale"],
        datasets: LEGEND_COLORS.map((c) => ({ data: [1], backgroundColor: c, borderColor: "#333", borderWidth: 0.6, barPercentage: 1, categoryPercentage: 1, stack: "a" })),
      },
      options: {
        indexAxis: "y",
        animation: false,
        responsive: false,
        events: [],
        layout: { padding: { left: 6, right: 30, top: 4, bottom: 0 } },
        plugins: { legend: { display: false }, tooltip: { enabled: false } },
        scales: {
          y: { display: false, stacked: true },
          x: {
            type: "linear", min: 0, max: 16, stacked: true,
            afterFit: (s) => { s.height = 30; },
            grid: { display: false, drawTicks: false },
            border: { display: false },
            ticks: { stepSize: 1, padding: 2, color: "#000", autoSkip: false, maxRotation: 0, font: { family: FONT, size: 25, weight: "bold" }, callback: (v) => LEGEND_LABELS[v - 1] ?? "" },
          },
        },
      },
    });
    return () => chart.destroy();
  }, []);
  return <canvas ref={ref} width={815 + 36} height={55} style={{ position: "absolute", left: left - 6, top: top - 4, display: "block" }} />;
}

export default function App() {
  return (
    <div style={{ position: "absolute", left: 0, top: 0, width: 1701, height: 1339, overflow: "hidden", background: "#fff" }}>
      <div style={{ position: "absolute", left: 0, top: 0, width: 170, height: 32, background: "#d9e8f6", clipPath: "polygon(0 0,100% 0,55% 30%,5% 30%,5% 100%,0 100%)" }} />
      <div style={{ position: "absolute", left: 1389, top: 1334, width: 120, height: 5, background: "#7fd8c6", clipPath: "polygon(0 40%,100% 0,100% 40%,30% 100%,0 100%)" }} />
      <div style={{ position: "absolute", left: 1568, top: 1308, width: 133, height: 31, background: "#7fd8c6", clipPath: "polygon(0 100%,100% 0,100% 20%,25% 100%)" }} />
      {PANELS.map((p, i) => <Panel key={i} panel={p} />)}
      <Legend left={17} top={1292} />
      <Legend left={875} top={1290} />
    </div>
  );
}
